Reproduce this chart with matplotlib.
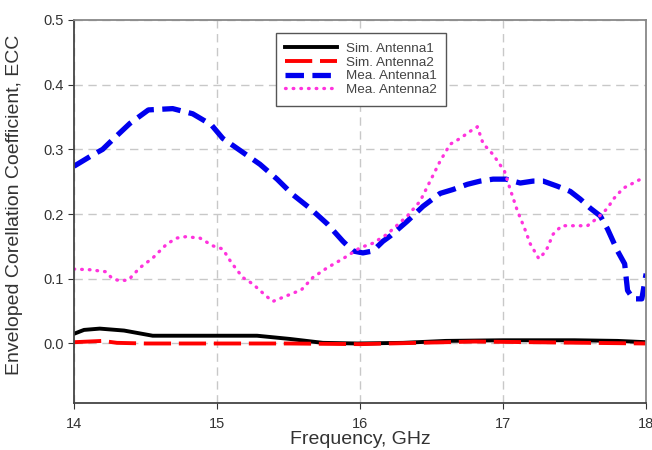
import numpy as np
import matplotlib.pyplot as plt

plt.rcParams['font.family'] = ['Liberation Sans', 'DejaVu Sans']

# Sim. Antenna1
f_sim1 = [14.0, 14.07, 14.18, 14.35, 14.55, 14.93, 15.28, 15.51, 15.74, 15.98,
          16.3, 16.6, 17.0, 17.5, 17.8, 18.0]
ecc_sim1 = [0.015, 0.021, 0.023, 0.020, 0.012, 0.012, 0.012, 0.007, 0.001, 0.0,
            0.001, 0.004, 0.005, 0.005, 0.004, 0.002]

# Sim. Antenna2
f_sim2 = [14.0, 14.1, 14.2, 14.3, 14.5, 15.0, 15.5, 16.0, 16.4, 16.8, 17.2,
          17.6, 18.0]
ecc_sim2 = [0.002, 0.003, 0.004, 0.001, 0.0, 0.0, 0.0, -0.001, 0.001, 0.003,
            0.002, 0.001, 0.0]

# Mea. Antenna1
f_mea1 = [14.0, 14.135, 14.2, 14.27, 14.39, 14.52, 14.69, 14.83, 14.96, 15.04,
          15.17, 15.30, 15.42, 15.53, 15.65, 15.77, 15.88, 15.95, 16.02, 16.09,
          16.16, 16.21, 16.33, 16.44, 16.56, 16.65, 16.75, 16.84, 16.93, 17.02,
          17.12, 17.21, 17.28, 17.38, 17.47, 17.54, 17.61, 17.68, 17.73, 17.80,
          17.85, 17.87, 17.91, 17.97, 18.0]
ecc_mea1 = [0.274, 0.292, 0.300, 0.315, 0.340, 0.361, 0.363, 0.355, 0.338, 0.317,
            0.297, 0.277, 0.254, 0.230, 0.209, 0.185, 0.158, 0.143, 0.140, 0.143,
            0.158, 0.166, 0.189, 0.212, 0.232, 0.238, 0.246, 0.251, 0.254, 0.254,
            0.248, 0.251, 0.251, 0.243, 0.235, 0.223, 0.209, 0.197, 0.177, 0.143,
            0.123, 0.082, 0.069, 0.069, 0.108]

# Mea. Antenna2
f_mea2 = [14.0, 14.11, 14.22, 14.27, 14.32, 14.38, 14.46, 14.55, 14.65, 14.72,
          14.78, 14.88, 14.97, 15.04, 15.10, 15.18, 15.25, 15.34, 15.39, 15.49,
          15.59, 15.67, 15.77, 15.88, 16.0, 16.09, 16.19, 16.33, 16.42, 16.49,
          16.56, 16.63, 16.70, 16.77, 16.82, 16.86, 16.93, 17.01, 17.05, 17.10,
          17.15, 17.19, 17.25, 17.30, 17.35, 17.41, 17.49, 17.59, 17.66, 17.73,
          17.77, 17.84, 17.91, 17.97]
ecc_mea2 = [0.115, 0.114, 0.111, 0.100, 0.097, 0.098, 0.117, 0.132, 0.154, 0.163,
            0.165, 0.163, 0.151, 0.146, 0.125, 0.102, 0.092, 0.074, 0.065, 0.074,
            0.083, 0.102, 0.117, 0.131, 0.148, 0.155, 0.169, 0.197, 0.220, 0.251,
            0.282, 0.308, 0.317, 0.328, 0.335, 0.309, 0.292, 0.266, 0.238, 0.205,
            0.178, 0.154, 0.131, 0.143, 0.169, 0.182, 0.182, 0.182, 0.194, 0.209,
            0.223, 0.240, 0.248, 0.255]

xticks = [14, 15, 16, 17, 18]
yticks = [0.0, 0.1, 0.2, 0.3, 0.4, 0.5]

fig = plt.figure(figsize=(6.52, 4.5), dpi=100)
ax = fig.add_axes([0.1135, 0.1044, 0.8775, 0.8512])

ax.plot(f_sim1, ecc_sim1, color='black', lw=2.8, label='Sim. Antenna1')
ax.plot(f_sim2, ecc_sim2, color='red', lw=2.8, dashes=(7, 2), label='Sim. Antenna2')
ax.plot(f_mea1, ecc_mea1, color='#0000ee', lw=3.8, dashes=(3.5, 1.6), label='Mea. Antenna1')
ax.plot(f_mea2, ecc_mea2, color='#ff33dd', lw=2.4, dashes=(0.2, 2.1),
        dash_capstyle='round', label='Mea. Antenna2')

ax.set_xlim(14, 18)
ax.set_ylim(-0.092, 0.5)
ax.set_xticks(xticks)
ax.set_yticks(yticks)
ax.set_yticklabels(['%.1f' % v for v in yticks])
ax.grid(True, color='#c8c8c8', linestyle=(0, (6, 4)), lw=1)
ax.set_axisbelow(True)
ax.tick_params(direction='out', length=4, labelsize=10.5, colors='#333333')
ax.tick_params(axis='x', pad=6)

for s in ['left', 'bottom']:
    ax.spines[s].set_color('#444444')
    ax.spines[s].set_linewidth(1.3)
for s in ['right', 'top']:
    ax.spines[s].set_color('#888888')
    ax.spines[s].set_linewidth(1.3)

ax.set_xlabel('Frequency, GHz', fontsize=14, color='#333333', labelpad=0)
ax.set_ylabel('Enveloped Corellation Coefficient, ECC', fontsize=14, color='#333333')
ax.yaxis.set_label_coords(-0.089, 0.517)

leg = ax.legend(loc='upper left', bbox_to_anchor=(0.353, 0.966), fontsize=9.7,
                fancybox=False, edgecolor='#555555', framealpha=1,
                handlelength=3.8, handletextpad=0.7, borderpad=0.7,
                labelspacing=0.1, borderaxespad=0)
leg.get_frame().set_linewidth(1.0)
for t in leg.get_texts():
    t.set_color('#444444')

fig.savefig('out.png', dpi=100)
